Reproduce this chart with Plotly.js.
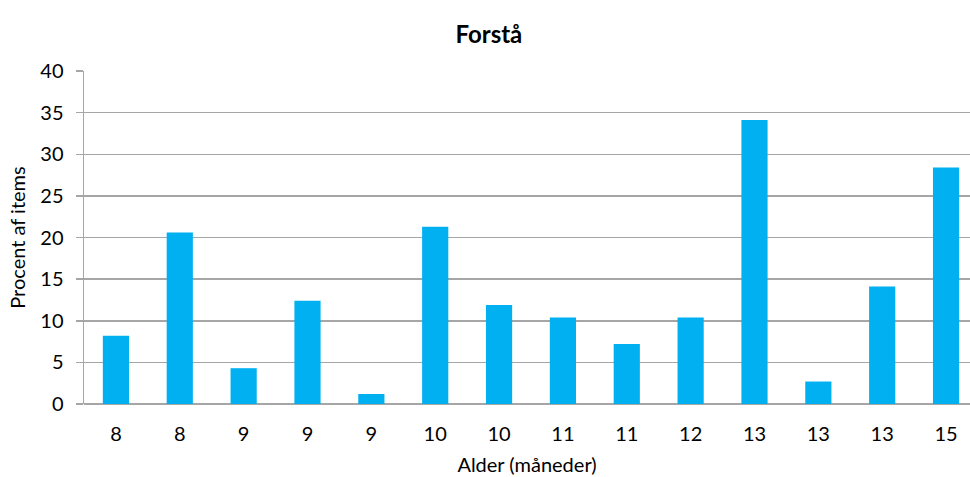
<!DOCTYPE html>
<html>
<head>
<meta charset="utf-8">
<script src="https://cdn.plot.ly/plotly-3.0.1.min.js"></script>
<style>html,body{margin:0;padding:0;background:#fff;}#chart{width:970px;height:477px;}</style>
</head>
<body>
<div id="chart"></div>
<script>
const ageLabels = ["8","8","9","9","9","10","10","11","11","12","13","13","13","15"];
const percentValues = [8.2, 20.6, 4.3, 12.4, 1.2, 21.3, 11.9, 10.4, 7.2, 10.4, 34.1, 2.7, 14.1, 28.4];
const yTicks = [0,5,10,15,20,25,30,35,40];

const positions = ageLabels.map((_, i) => i);
const FONT = "Lato, 'Open Sans', sans-serif";
const GRID = '#a6a6a6';

Plotly.newPlot('chart', [{
  type: 'bar',
  x: positions,
  y: percentValues,
  marker: {color: '#00B0F0'},
  hoverinfo: 'y'
}], {
  width: 970, height: 477,
  margin: {l: 84, r: 0, t: 71, b: 73},
  paper_bgcolor: '#fff', plot_bgcolor: '#fff',
  bargap: 0.59,
  showlegend: false,
  title: {text: '<b>Forstå</b>', font: {family: FONT, size: 24, color: '#000'}, x: 0.504, xanchor: 'center', xref: 'container', y: 0.945, yref: 'container'},
  xaxis: {
    range: [-0.5, 13.375],
    tickvals: positions,
    ticktext: ageLabels,
    tickfont: {family: FONT, size: 20, color: '#000'},
    showgrid: false,
    showline: false,
    zeroline: false,
    ticks: 'outside',
    ticklen: 0,
    ticklabelstandoff: 12,
    title: {text: 'Alder (måneder)', font: {family: FONT, size: 20, color: '#000'}, standoff: 13}
  },
  yaxis: {
    range: [0, 40],
    tickvals: yTicks,
    tickfont: {family: FONT, size: 20, color: '#000'},
    showgrid: true,
    gridcolor: GRID,
    gridwidth: 1.5,
    showline: true,
    linecolor: GRID,
    linewidth: 1.5,
    zeroline: true,
    zerolinecolor: GRID,
    zerolinewidth: 1.5,
    ticks: 'outside',
    ticklen: 7,
    tickwidth: 1.5,
    tickcolor: GRID,
    ticklabelstandoff: 8,
    title: {text: 'Procent af items', font: {family: FONT, size: 20, color: '#000'}, standoff: 9}
  }
}, {staticPlot: true});
</script>
</body>
</html>
